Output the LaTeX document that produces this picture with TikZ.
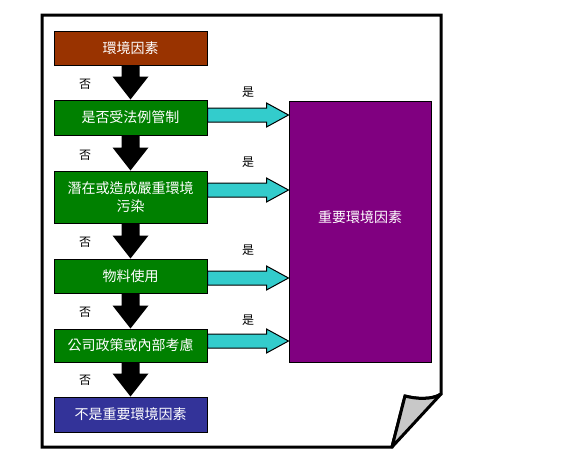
\documentclass[tikz,border=0pt]{standalone}
\usepackage{fontspec}
\setmainfont{Noto Sans CJK TC}
\usetikzlibrary{calc}
\definecolor{brn}{HTML}{993300}
\definecolor{grn}{HTML}{008000}
\definecolor{nvy}{HTML}{333399}
\definecolor{prp}{HTML}{800080}
\definecolor{cyn}{HTML}{33CCCC}
\definecolor{fold}{HTML}{C8C8C8}
\newcommand\blkarrow[2]{\fill let \p1=(#1), \p2=(#2) in
  (\x1-6.75pt,\y1) -- (\x1-6.75pt,\y2+17.25pt) -- (\x1-13.5pt,\y2+17.25pt) -- (\x1,\y2)
  -- (\x1+13.5pt,\y2+17.25pt) -- (\x1+6.75pt,\y2+17.25pt) -- (\x1+6.75pt,\y1) -- cycle;}
\newcommand\cyarrow[2]{\draw[fill=cyn, line width=0.75pt] let \p1=(#1), \p2=(#2) in
  (\x1,\y1+5.25pt) -- (\x2-16.5pt,\y1+5.25pt) -- (\x2-16.5pt,\y1+9pt) -- (\x2,\y1)
  -- (\x2-16.5pt,\y1-9pt) -- (\x2-16.5pt,\y1-5.25pt) -- (\x1,\y1-5.25pt) -- cycle;}
\begin{document}
\begin{tikzpicture}[x=0.75pt,y=-0.75pt,
  box/.style={draw=black, line width=0.75pt, minimum width=114.75pt, text=white,
    font=\fontsize{10.5}{13.5}\selectfont, align=center, inner sep=0pt},
  lbl/.style={font=\fontsize{9}{11}\selectfont, inner sep=0pt}]
\useasboundingbox (0,0) rectangle (579,457);
% page
\draw[line width=2.25pt, line join=miter, fill=white]
  (42,15) -- (441,15) -- (441,394) .. controls (432,400) and (416,399) .. (405,396)
  -- (392,447) -- (42,447) -- cycle;
\draw[line width=2.25pt, line join=round, fill=fold]
  (405,396) .. controls (416,399) and (432,400) .. (441,394) -- (392,447) -- cycle;
% boxes
\node[box, fill=brn, minimum height=25.5pt] (b1) at (130.5,48) {環境因素};
\node[box, fill=grn, minimum height=26.25pt] (b2) at (130.5,117.5) {是否受法例管制};
\node[box, fill=grn, minimum height=39pt] (b3) at (130.5,197) {潛在或造成嚴重環境\\污染};
\node[box, fill=grn, minimum height=25.5pt] (b4) at (130.5,276) {物料使用};
\node[box, fill=grn, minimum height=24.75pt] (b5) at (130.5,345.5) {公司政策或內部考慮};
\node[box, fill=nvy, minimum height=26.25pt] (b6) at (130.5,414.5) {不是重要環境因素};
\node[box, fill=prp, minimum width=106.5pt, minimum height=195.75pt,
  label={[text=white, font=\fontsize{10.5}{13.5}\selectfont, yshift=10.9pt]center:重要環境因素}]
  (imp) at (360,231.5) {};
% down arrows
\blkarrow{b1.south}{b2.north}
\blkarrow{b2.south}{b3.north}
\blkarrow{b3.south}{b4.north}
\blkarrow{b4.south}{b5.north}
\blkarrow{b5.south}{b6.north}
% right arrows
\coordinate (s1) at ($(b2.east)+(0,-2.5)$);
\coordinate (s2) at ($(b3.east)+(0,-7)$);
\coordinate (s3) at ($(b4.east)+(0,2)$);
\coordinate (s4) at ($(b5.east)+(0,-4.5)$);
\cyarrow{s1}{imp.west |- s1}
\cyarrow{s2}{imp.west |- s2}
\cyarrow{s3}{imp.west |- s3}
\cyarrow{s4}{imp.west |- s4}
% labels
\node[lbl] (n1) at (85,84) {否};
\node[lbl] (n2) at (85,155) {否};
\node[lbl] (n3) at (85,242) {否};
\node[lbl] (n4) at (85,312) {否};
\node[lbl] (n5) at (85,380) {否};
\node[lbl] (y1) at (248,92) {是};
\node[lbl] (y2) at (248,162) {是};
\node[lbl] (y3) at (248,250) {是};
\node[lbl] (y4) at (248,320) {是};
\end{tikzpicture}
\end{document}
